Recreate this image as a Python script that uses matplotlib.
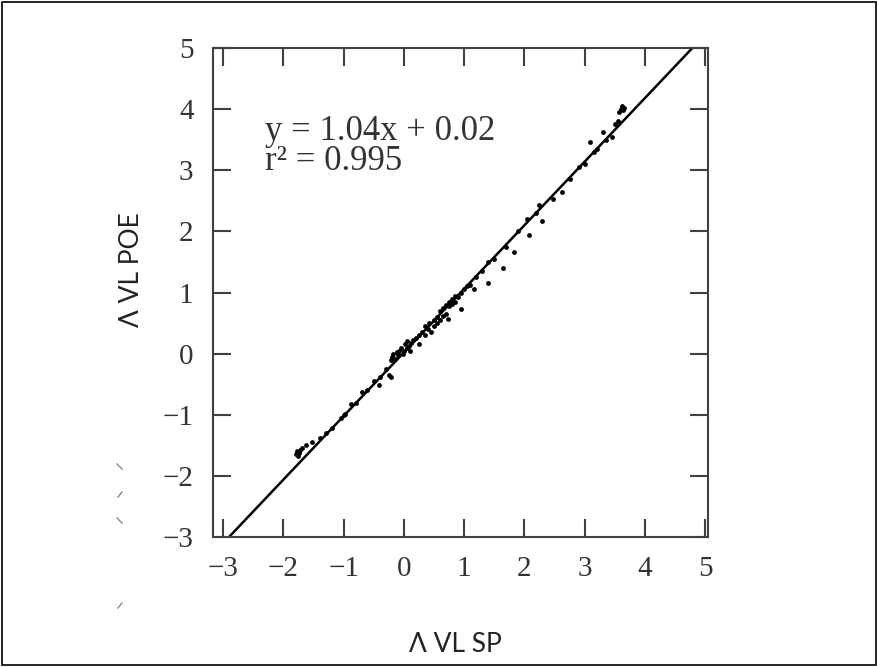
import numpy as np
import matplotlib
matplotlib.use("Agg")
import matplotlib.pyplot as plt
from matplotlib.patches import Rectangle
from matplotlib.lines import Line2D

# Paired log viral load measurements: SP (x) vs POE (y)
vl_sp = [
    -1.80, -1.78, -1.75, -1.72, -1.76, -1.70, -1.62, -1.52, -1.40, -1.30,
    -1.20, -1.05, -1.00, -0.98, -0.88, -0.80, -0.70, -0.62, -0.50, -0.42,
    -0.40, -0.30, -0.25,
    -0.20, -0.18, -0.15, -0.12, -0.10, -0.22, -0.08, -0.05, -0.02, 0.00,
    0.02, 0.05, 0.05, 0.08, 0.10, 0.12, -0.21, 0.15, 0.20, 0.25,
    0.25, 0.30, 0.35, 0.35, 0.40, 0.42, 0.45, 0.50, 0.50, 0.55,
    0.55, 0.60, 0.60, 0.65, 0.65, 0.70, 0.70, 0.73, 0.75, 0.75,
    0.80, 0.80, 0.85, 0.85, 0.90, 0.94, 0.95, 1.00, 1.05, 1.10,
    1.16, 1.20, 1.30, 1.39, 1.40, 1.50, 1.65, 1.70, 1.82, 1.90,
    2.05, 2.07, 2.20, 2.25, 2.30, 2.48, 2.63, 2.75, 2.90, 3.00,
    3.09, 3.15, 3.20, 3.30, 3.35, 3.45, 3.50, 3.55, 3.60, 3.62,
    3.64, 3.58, 3.65,
]
vl_poe = [
    -1.65, -1.60, -1.62, -1.58, -1.68, -1.55, -1.50, -1.45, -1.38, -1.30,
    -1.22, -1.05, -1.00, -0.98, -0.82, -0.80, -0.62, -0.60, -0.45, -0.52,
    -0.38, -0.25, -0.35,
    -0.05, 0.00, -0.08, 0.02, -0.02, -0.10, 0.05, 0.10, 0.00, 0.05,
    0.15, 0.10, 0.20, 0.12, 0.05, 0.18, -0.38, 0.22, 0.25, 0.15,
    0.30, 0.35, 0.30, 0.45, 0.40, 0.50, 0.35, 0.55, 0.45, 0.60,
    0.50, 0.70, 0.55, 0.75, 0.62, 0.80, 0.65, 0.57, 0.85, 0.78,
    0.90, 0.82, 0.95, 0.85, 0.92, 0.73, 1.00, 1.05, 1.10, 1.12,
    1.06, 1.25, 1.35, 1.16, 1.50, 1.55, 1.40, 1.75, 1.66, 2.00,
    2.20, 1.94, 2.30, 2.43, 2.17, 2.53, 2.64, 2.85, 3.05, 3.10,
    3.46, 3.30, 3.35, 3.62, 3.50, 3.55, 3.75, 3.80, 4.00, 4.05,
    3.98, 3.95, 4.02,
]

# regression fit reported on the chart
slope, intercept, r2 = 1.04, 0.02, 0.995
ticks = [-3, -2, -1, 0, 1, 2, 3, 4, 5]
x_lim = (-3.17, 5.05)
y_lim = (-3.0, 5.0)

plt.rcParams['font.family'] = ['Liberation Serif', 'DejaVu Serif']
plt.rcParams['axes.unicode_minus'] = True

fig = plt.figure(figsize=(8.78, 6.67), dpi=100)
ax = fig.add_axes([0.2426, 0.1949, 0.5638, 0.733])

# fit line spans the plot between the y limits
fx = np.array([(y_lim[0] - intercept) / slope, (y_lim[1] - intercept) / slope])
ax.plot(fx, slope * fx + intercept, color='black', lw=1.8, zorder=2)
ax.scatter(vl_sp, vl_poe, s=12, color='black', linewidths=0, zorder=3)

ax.set_xlim(*x_lim)
ax.set_ylim(*y_lim)
ax.set_xticks(ticks)
ax.set_yticks(ticks)

dark = '#404040'
for sp in ax.spines.values():
    sp.set_color(dark)
    sp.set_linewidth(1.5)
ax.tick_params(direction='in', length=13, width=1.5, color=dark,
               labelcolor='#333333', labelsize=21,
               top=True, right=True)
ax.tick_params(axis='x', pad=14)
ax.tick_params(axis='y', pad=14)

ax.text(0.105, 0.830, f"y = {slope:.2f}x + {intercept:.2f}", transform=ax.transAxes,
        fontsize=25, color='#333333', va='center', ha='left')
ax.text(0.105, 0.768, f"r\u00b2 = {r2:.3f}", transform=ax.transAxes,
        fontsize=25, color='#333333', va='center', ha='left')

label_font = ['Lato', 'Open Sans', 'DejaVu Sans']
ax.set_xlabel("\u039b VL SP", family=label_font, fontsize=19, color='#222222')
ax.set_ylabel("\u039b VL POE", family=label_font, fontsize=19, color='#222222')
ax.xaxis.set_label_coords(0.49, -0.195)
ax.yaxis.set_label_coords(-0.14, 0.546)

# outer frame around the whole figure
fig.add_artist(Rectangle((0.002, 0.003), 0.996, 0.994, transform=fig.transFigure,
                         fill=False, edgecolor='black', linewidth=1.2))

# faint stray strokes left of the y axis
W, H = 878, 667
for (x0, y0, x1, y1) in [(117, 464, 122, 469), (118, 497, 122, 492),
                         (117, 518, 122, 523), (118, 608, 122, 603)]:
    fig.add_artist(Line2D([x0 / W, x1 / W], [1 - y0 / H, 1 - y1 / H],
                          transform=fig.transFigure, color='#888888', lw=1.0))

fig.savefig("out.png", dpi=100)
